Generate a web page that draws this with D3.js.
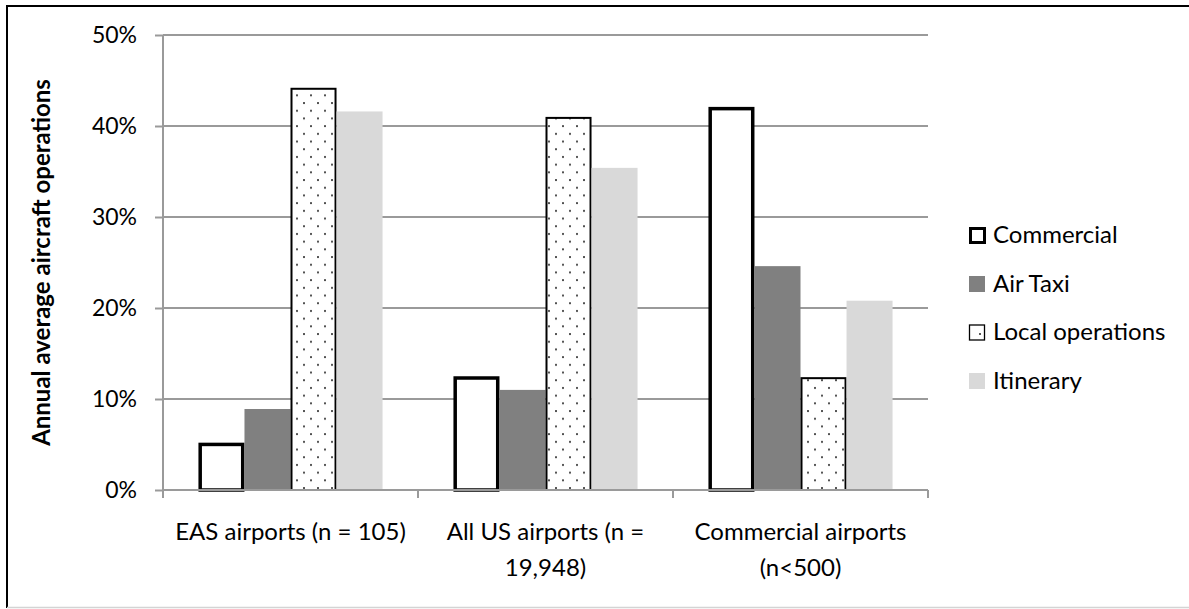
<!DOCTYPE html>
<html><head><meta charset="utf-8">
<script src="https://cdn.jsdelivr.net/npm/d3@7"></script>
<style>
html,body{margin:0;padding:0;background:#fff;}
svg{display:block;}
text{font-family:Lato,"Open Sans",sans-serif;fill:#000;}
</style></head>
<body>
<svg id="chart" width="1189" height="609"></svg>
<script>
const categories = [["EAS airports (n = 105)"], ["All US airports (n =", "19,948)"], ["Commercial airports", "(n<500)"]];
const seriesNames = ["Commercial", "Air Taxi", "Local operations", "Itinerary"];
const commercial = [5.2, 12.5, 42.1];
const airTaxi = [8.9, 11.0, 24.6];
const localOps = [44.2, 41.0, 12.4];
const itinerary = [41.6, 35.4, 20.8];
const yTicks = [0, 10, 20, 30, 40, 50];
const yLabel = "Annual average aircraft operations";

(function(){
const seriesValues = [commercial, airTaxi, localOps, itinerary];
const svg = d3.select("#chart");

const defs = svg.append("defs");
const pat = defs.append("pattern").attr("id","dots").attr("patternUnits","userSpaceOnUse")
  .attr("width",14).attr("height",15.4);
pat.append("rect").attr("width",14).attr("height",15.4).attr("fill","#fff");
pat.append("circle").attr("cx",3).attr("cy",3).attr("r",1).attr("fill","#222");
pat.append("circle").attr("cx",10).attr("cy",10.7).attr("r",1).attr("fill","#222");

svg.append("line").attr("x1",7).attr("x2",1189).attr("y1",6).attr("y2",6).attr("stroke","#000").attr("stroke-width",2);
svg.append("line").attr("x1",7).attr("x2",7).attr("y1",5).attr("y2",608).attr("stroke","#000").attr("stroke-width",2);
svg.append("line").attr("x1",7).attr("x2",1189).attr("y1",607.5).attr("y2",607.5).attr("stroke","#d4d4d4").attr("stroke-width",1.5);

const pLeft = 163, pRight = 928, pTop = 35, pBottom = 490;
const x0 = d3.scaleBand().domain(d3.range(categories.length)).range([pLeft, pRight]);
const x1 = d3.scaleBand().domain(d3.range(seriesNames.length)).range([0, x0.bandwidth()]).paddingOuter(0.77).paddingInner(0);
const y = d3.scaleLinear().domain([0, 50]).range([pBottom, pTop]);

svg.append("g").selectAll("line").data(yTicks.filter(d=>d>0)).join("line")
  .attr("x1", pLeft).attr("x2", pRight).attr("y1", d=>y(d)).attr("y2", d=>y(d))
  .attr("stroke","#9a9a9a").attr("stroke-width",2);

const yAxis = d3.axisLeft(y).tickValues(yTicks).tickFormat(d=>d+"%").tickSize(8).tickPadding(18);
const gy = svg.append("g").attr("transform",`translate(${pLeft},0)`).call(yAxis);
gy.select(".domain").remove();
gy.selectAll(".tick line").attr("stroke","#9a9a9a").attr("stroke-width",2);
gy.selectAll(".tick text").attr("font-size",23).style("font-family","Lato,sans-serif").attr("fill","#000");
svg.append("line").attr("x1",pLeft).attr("x2",pLeft).attr("y1",pTop).attr("y2",pBottom+7).attr("stroke","#9a9a9a").attr("stroke-width",2);

const styles = [
  {fill:"#fff", stroke:"#000", sw:3.5},
  {fill:"#808080", stroke:"none", sw:0},
  {fill:"url(#dots)", stroke:"#000", sw:2},
  {fill:"#d9d9d9", stroke:"none", sw:0}
];
seriesValues.forEach((vals, si) => {
  const st = styles[si];
  svg.append("g").selectAll("rect").data(vals).join("rect")
    .attr("x", (d,i)=> x0(i) + x1(si) + st.sw/2)
    .attr("width", x1.bandwidth() - st.sw)
    .attr("y", d => y(d) + st.sw/2)
    .attr("height", d => pBottom - y(d) - st.sw/2)
    .attr("fill", st.fill).attr("stroke", st.stroke).attr("stroke-width", st.sw);
});

svg.append("line").attr("x1",pLeft).attr("x2",pRight).attr("y1",pBottom).attr("y2",pBottom).attr("stroke","#9a9a9a").attr("stroke-width",2);
const xTickPos = d3.range(categories.length + 1).map(i => i < categories.length ? x0(i) : x0(categories.length-1) + x0.bandwidth());
svg.append("g").selectAll("line").data(xTickPos).join("line")
  .attr("x1", d=>d).attr("x2", d=>d).attr("y1", pBottom).attr("y2", pBottom+8)
  .attr("stroke","#9a9a9a").attr("stroke-width",2);

categories.forEach((lines, i) => {
  const cx = x0(i) + x0.bandwidth()/2;
  const t = svg.append("text").attr("text-anchor","middle").attr("font-size",24).attr("x", cx).attr("y", 540);
  lines.forEach((ln, j) => t.append("tspan").attr("x", cx).attr("dy", j === 0 ? 0 : 36).text(ln));
});

svg.append("text").attr("transform",`translate(50,${(pTop+pBottom)/2}) rotate(-90)`)
  .attr("text-anchor","middle").attr("font-size",24).attr("font-weight","bold").text(yLabel);

const lg = svg.append("g");
const lx = 969, ly0 = 235, lstep = 48.5;
seriesNames.forEach((name, i) => {
  const cy = ly0 + i*lstep;
  const st = styles[i];
  if (i === 0) {
    lg.append("rect").attr("x", lx+1.5).attr("y", cy-6.5).attr("width",14).attr("height",14).attr("fill","#fff").attr("stroke","#000").attr("stroke-width",3);
  } else if (i === 2) {
    lg.append("rect").attr("x", lx+0.5).attr("y", cy-7).attr("width",15).attr("height",15).attr("fill","#fff").attr("stroke","#000").attr("stroke-width",1.3);
    lg.append("circle").attr("cx", lx+11).attr("cy", cy+2).attr("r",1).attr("fill","#222");
  } else {
    lg.append("rect").attr("x", lx).attr("y", cy-7.5).attr("width",16).attr("height",16).attr("fill",st.fill);
  }
  lg.append("text").attr("x", lx+24).attr("y", cy).attr("dy","0.35em").attr("font-size",24).text(name);
});
})();
</script>
</body></html>
